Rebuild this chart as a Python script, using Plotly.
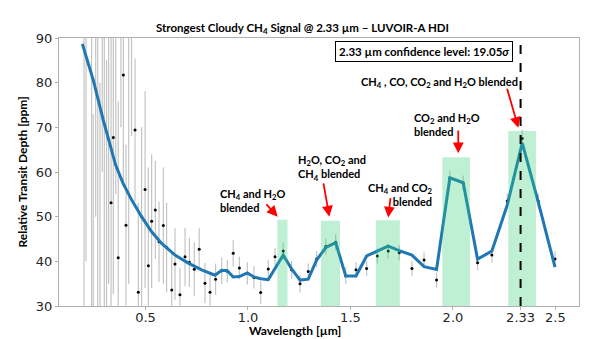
import plotly.graph_objects as go

# ---------------- data ----------------
data_wl = [0.200, 0.210, 0.237, 0.245, 0.257, 0.267, 0.278, 0.289, 0.299, 0.310, 0.320,
           0.332, 0.343, 0.355, 0.367, 0.380, 0.392, 0.405, 0.418, 0.432, 0.449, 0.465,
           0.481, 0.498, 0.514, 0.530, 0.548, 0.566, 0.587, 0.603, 0.628, 0.644, 0.668,
           0.693, 0.714, 0.738, 0.762, 0.790, 0.815, 0.842, 0.872, 0.899, 0.928, 0.958,
           0.997, 1.029, 1.062, 1.099, 1.132, 1.172, 1.213, 1.254, 1.294, 1.335, 1.380,
           1.428, 1.477, 1.527, 1.579, 1.631, 1.684, 1.738, 1.800, 1.859, 1.920, 1.985,
           2.050, 2.120, 2.190, 2.265, 2.338, 2.416, 2.498]
data_val = [95, 110, 25, 20, 120, 100, 10, 130, 95, 15, 105,
            53.1, 67.7, 95, 40.8, 100, 81.7, 48.1, 95, 92, 69.4, 33.1,
            50, 56.1, 39.0, 49.0, 51.5, 44.4, 48.0, 43.1, 33.6, 39.4, 32.5,
            41.0, 39.8, 38.2, 42.7, 35.1, 33.1, 36.0, 37.9, 37.8, 41.8, 38.5,
            37.3, 36.4, 33.0, 38.3, 41.0, 42.3, 38.1, 35.0, 37.7, 40.5, 43.3,
            44.3, 36.8, 38.1, 38.4, 41.2, 42.3, 41.9, 38.4, 40.3, 35.8, 58.6,
            57.5, 39.7, 41.4, 53.5, 67.5, 53.5, 40.5]
data_err = [70, 70, 70, 53, 70, 70, 70, 70, 70, 70, 70,
            40, 35, 40, 35, 30, 25, 18, 60, 24, 16, 20,
            20, 22, 22, 15, 11, 9, 13, 10, 8, 8, 6,
            6.5, 5.5, 6, 4.7, 4.5, 4, 3.5, 3, 2.5, 3, 2.5,
            2.5, 2.5, 2.5, 2, 2, 2, 2, 2, 1.8, 1.8, 1.8,
            1.8, 1.8, 1.7, 1.7, 1.7, 1.7, 1.7, 1.7, 1.7, 1.7, 1.7,
            1.7, 1.7, 1.7, 1.7, 2.0, 1.7, 1.7]

model_wl = [0.192, 0.245, 0.294, 0.354, 0.390, 0.433, 0.481, 0.530, 0.579, 0.644,
            0.709, 0.774, 0.839, 0.872, 0.899, 0.928, 0.958, 0.997, 1.029, 1.062,
            1.099, 1.141, 1.172, 1.213, 1.254, 1.294, 1.335, 1.380, 1.428, 1.477,
            1.527, 1.579, 1.631, 1.684, 1.738, 1.800, 1.859, 1.920, 1.985, 2.050,
            2.120, 2.190, 2.265, 2.338, 2.416, 2.498]
model_val = [88.7, 80.6, 71.6, 61.6, 57.5, 53.7, 50.0, 46.6, 44.0, 41.4,
             39.6, 38.1, 36.9, 38.0, 37.9, 36.5, 36.6, 37.4, 36.5, 36.1,
             35.9, 39.2, 41.4, 38.3, 35.8, 36.0, 40.3, 43.1, 44.2, 36.7,
             36.7, 41.2, 42.3, 43.4, 42.4, 41.4, 38.8, 38.2, 58.7, 57.6,
             40.5, 42.3, 52.6, 66.5, 53.3, 38.7]

band_lo = [1.143, 1.356, 1.624, 1.948, 2.270]
band_hi = [1.193, 1.449, 1.741, 2.083, 2.405]
band_top = [49.3, 49.1, 49.2, 63.3, 69.2]

x_ticks = [0.5, 1.0, 1.5, 2.0, 2.33, 2.5]
x_ticklabels = ["0.5", "1.0", "1.5", "2.0", "2.33", "2.5"]
y_ticks = [30, 40, 50, 60, 70, 80, 90]

labels = [
    "CH<sub>4</sub> and H<sub>2</sub>O<br>blended",
    "H<sub>2</sub>O, CO<sub>2</sub> and<br>CH<sub>4</sub> blended",
    "CH<sub>4</sub> and CO<sub>2</sub><br>blended",
    "CO<sub>2</sub> and H<sub>2</sub>O<br>blended",
    "CH<sub>4</sub> , CO, CO<sub>2</sub> and H<sub>2</sub>O blended",
]
label_x = [0.854, 1.234, 1.912, 1.801, 1.932]
label_y = [53.7, 61.0, 55.0, 70.7, 80.0]
label_anchor = ["left", "left", "right", "left", "center"]
arrow_tail_x = [1.083, 1.367, 1.696, 2.026, 2.262]
arrow_tail_y = [53.1, 57.8, 54.5, 69.6, 79.0]
arrow_tip_x = [1.145, 1.397, 1.684, 2.026, 2.319]
arrow_tip_y = [50.0, 50.0, 49.8, 64.2, 69.9]

ann_font = dict(family="Lato, 'Open Sans', sans-serif", size=11, color="black")

fig = go.Figure()

fig.add_trace(go.Scatter(
    x=data_wl, y=data_val, mode="markers",
    marker=dict(color="black", size=3),
    error_y=dict(type="data", array=data_err, color="#c4c4c4", thickness=1.2, width=0),
    showlegend=False, hoverinfo="skip"))

fig.add_trace(go.Scatter(
    x=model_wl, y=model_val, mode="lines",
    line=dict(color="#1f77b4", width=3),
    showlegend=False, hoverinfo="skip"))

for lo, hi, top in zip(band_lo, band_hi, band_top):
    fig.add_shape(type="rect", xref="x", yref="y", x0=lo, x1=hi, y0=30, y1=top,
                  fillcolor="rgba(46,204,113,0.30)", line=dict(width=0), layer="above")

fig.add_shape(type="line", xref="x", yref="y", x0=2.33, x1=2.33, y0=30, y1=90,
              line=dict(color="black", width=2, dash="dash"), layer="above")

for txt, lx, ly, anc in zip(labels, label_x, label_y, label_anchor):
    fig.add_annotation(x=lx, y=ly, xref="x", yref="y", text="<b>" + txt + "</b>",
                       showarrow=False, xanchor=anc, yanchor="middle", align=anc,
                       font=ann_font)

for tx, ty, hx, hy in zip(arrow_tail_x, arrow_tail_y, arrow_tip_x, arrow_tip_y):
    fig.add_annotation(x=hx, y=hy, ax=tx, ay=ty, xref="x", yref="y", axref="x", ayref="y",
                       text="", showarrow=True, arrowhead=2, arrowsize=1.2,
                       arrowwidth=1.8, arrowcolor="red")

fig.add_annotation(x=1.86, y=87.0, xref="x", yref="y",
                   text="<b>2.33 µm confidence level: 19.05<i>σ</i></b>",
                   showarrow=False, bordercolor="black", borderwidth=1, borderpad=3,
                   bgcolor="white", font=dict(family="Lato, 'Open Sans', sans-serif", size=11.5, color="black"))

# axis titles and main title
fig.add_annotation(x=0.468, y=1.035, xref="paper", yref="paper",
                   text="<b>Strongest Cloudy CH<sub>4</sub> Signal @ 2.33 µm – LUVOIR-A HDI</b>",
                   showarrow=False, xanchor="center", yanchor="middle",
                   font=dict(family="Lato, sans-serif", size=11.5, color="black"))
fig.add_annotation(x=0.454, y=-0.09, xref="paper", yref="paper",
                   text="<b>Wavelength [µm]</b>", showarrow=False,
                   xanchor="center", yanchor="middle",
                   font=dict(family="Lato, sans-serif", size=12, color="black"))
fig.add_annotation(x=-0.072, y=0.5, xref="paper", yref="paper",
                   text="<b>Relative Transit Depth [ppm]</b>", showarrow=False,
                   textangle=-90, xanchor="center", yanchor="middle",
                   font=dict(family="Lato, sans-serif", size=12, color="black"))

axis_common = dict(showline=True, mirror=True, linecolor="#b0b0b0", linewidth=1,
                   ticks="outside", ticklen=3, tickcolor="#b0b0b0", showgrid=False,
                   zeroline=False,
                   tickfont=dict(family="DejaVu Sans, sans-serif", size=13, color="#262626"))

fig.update_xaxes(range=[0.078, 2.615], tickvals=x_ticks, ticktext=x_ticklabels,
                 ticklabelstandoff=-4, **axis_common)
fig.update_yaxes(range=[30, 90], tickvals=y_ticks, **axis_common)

fig.update_layout(width=598, height=339, margin=dict(l=59, r=19, t=38, b=33),
                  plot_bgcolor="white", paper_bgcolor="white", showlegend=False)

fig.write_html("out.html", config={"displayModeBar": False},
               post_script="document.body.style.margin='0';document.body.style.padding='0';")
